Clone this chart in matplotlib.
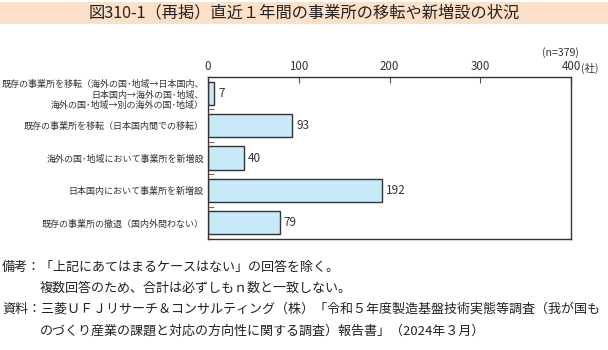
import matplotlib
matplotlib.use("Agg")
import matplotlib.pyplot as plt
from matplotlib.patches import Rectangle
import numpy as np

plt.rcParams['font.family'] = ['Noto Sans CJK JP', 'DejaVu Sans']

# data
categories = [
    '既存の事業所を移転（海外の国･地域→日本国内、\n日本国内→海外の国･地域、\n海外の国･地域→別の海外の国･地域）',
    '既存の事業所を移転（日本国内間での移転）',
    '海外の国･地域において事業所を新増設',
    '日本国内において事業所を新増設',
    '既存の事業所の撤退（国内外問わない）',
]
values = [7, 93, 40, 192, 79]
xticks = [0, 100, 200, 300, 400]

title = '図310-1（再掲）直近１年間の事業所の移転や新増設の状況'
notes = [
    (2, '備考：「上記にあてはまるケースはない」の回答を除く。'),
    (40, '複数回答のため、合計は必ずしもｎ数と一致しない。'),
    (2, '資料：三菱ＵＦＪリサーチ＆コンサルティング（株）「令和５年度製造基盤技術実態等調査（我が国も'),
    (40, 'のづくり産業の課題と対応の方向性に関する調査）報告書」（2024年３月）'),
]

W, H = 608, 350
fig = plt.figure(figsize=(W / 100, H / 100), dpi=100)

# title band
fig.patches.append(Rectangle((0, 1 - 24 / H), 1, 22 / H, transform=fig.transFigure,
                             facecolor='#fde0c8', edgecolor='none'))
fig.text(0.5, 1 - 13 / H, title, ha='center', va='center', fontsize=11.7, color='#222222')

ax = fig.add_axes([208 / W, 1 - 239 / H, (571 - 208) / W, (239 - 77) / H])
y = np.arange(len(categories))
ax.barh(y, values, height=0.72, color='#c8e9f8', edgecolor='#333333', linewidth=1)
for yi, v in zip(y, values):
    ax.text(v + 4, yi, str(v), va='center', ha='left', fontsize=8.5, color='#333333')

ax.set_xlim(0, 400)
ax.set_ylim(len(categories) - 0.5, -0.5)
ax.xaxis.tick_top()
ax.set_xticks(xticks)
ax.set_xticklabels([str(t) for t in xticks], fontsize=8.3, color='#333333')
ax.tick_params(axis='x', direction='in', length=4, pad=3, color='#555555')
ax.set_yticks(y)
ax.set_yticklabels(categories, fontsize=6.5, color='#333333', linespacing=1.2)
ax.tick_params(axis='y', which='major', length=0, pad=3)
ax.set_yticks(np.arange(0.5, len(categories) - 0.5), minor=True)
ax.tick_params(axis='y', which='minor', direction='in', length=4, color='#555555')
for s in ax.spines.values():
    s.set_color('#333333')
    s.set_linewidth(1)

fig.text(579 / W, 1 - 53 / H, '(n=379)', ha='right', va='center', fontsize=7.6, color='#333333')
fig.text(581 / W, 1 - 68 / H, '(社)', ha='left', va='center', fontsize=7.6, color='#333333')

ys = [267, 288, 309, 331]
for (x, t), yy in zip(notes, ys):
    fig.text(x / W, 1 - yy / H, t, ha='left', va='center', fontsize=9.4, color='#222222')

fig.savefig('out.png', dpi=100)
